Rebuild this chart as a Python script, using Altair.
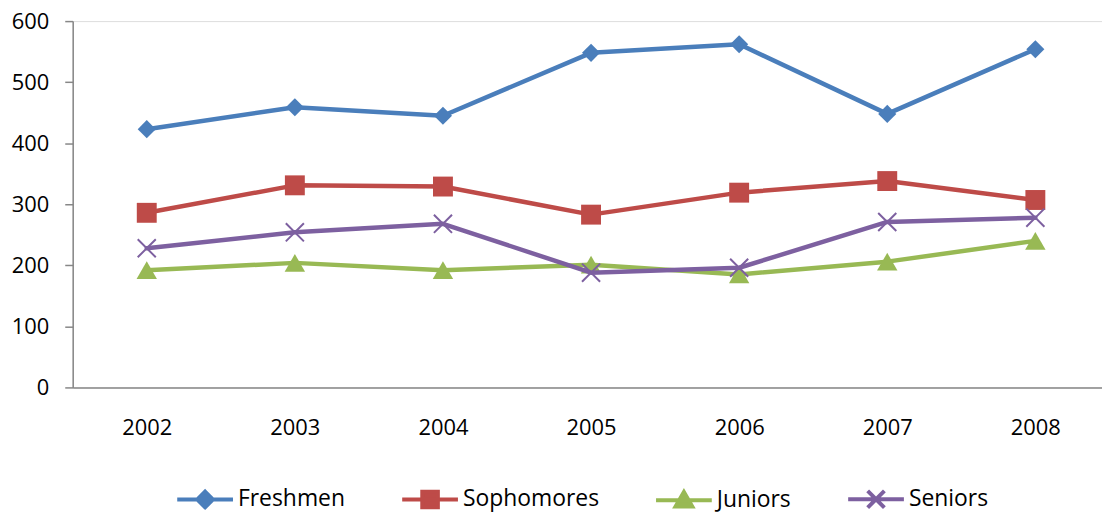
import altair as alt
import pandas as pd

years = [2002, 2003, 2004, 2005, 2006, 2007, 2008]
series = ["Freshmen", "Sophomores", "Juniors", "Seniors"]
freshmen = [423, 459, 445, 548, 562, 448, 554]
sophomores = [286, 331, 329, 283, 319, 338, 307]
juniors = [192, 204, 192, 201, 185, 206, 240]
seniors = [228, 254, 268, 188, 196, 271, 278]
values = [freshmen, sophomores, juniors, seniors]
colors = ["#4A7EBB", "#BE4B48", "#98B954", "#7D60A0"]
y_ticks = [0, 100, 200, 300, 400, 500, 600]

rows = []
for s, vals in zip(series, values):
    for yr, v in zip(years, vals):
        rows.append({"year": yr, "series": s, "value": v})
df = pd.DataFrame(rows)

FONT = "Open Sans"
AXIS_COLOR = "#878787"

x_enc = alt.X(
    "year:Q",
    scale=alt.Scale(domain=[2001.5, 2008.45], nice=False, zero=False),
    axis=alt.Axis(values=years, format="d", ticks=False, grid=False, title=None,
                  labelPadding=30, labelFontSize=22, labelFont=FONT, labelColor="#000",
                  domainColor=AXIS_COLOR, domainWidth=1.5),
)
y_enc = alt.Y(
    "value:Q",
    scale=alt.Scale(domain=[0, 600], nice=False),
    axis=alt.Axis(values=y_ticks, grid=False, title=None, tickSize=8,
                  tickColor=AXIS_COLOR, tickWidth=1.5, labelPadding=16,
                  labelFontSize=22, labelFont=FONT, labelColor="#000",
                  domainColor=AXIS_COLOR, domainWidth=1.5),
)

point_styles = [
    dict(shape="diamond", size=330, filled=True),
    dict(shape="square", size=400, filled=True),
    dict(shape="triangle-up", size=420, filled=True),
    dict(shape="M-1,-1L1,1M-1,1L1,-1", size=330, filled=False, strokeWidth=2),
]

layers = []
for s, c, st in zip(series, colors, point_styles):
    base = alt.Chart(df).transform_filter(alt.datum.series == s)
    layers.append(
        base.mark_line(strokeWidth=4.5, strokeJoin="round", strokeCap="round", color=c)
        .encode(x=x_enc, y=y_enc)
    )
    layers.append(
        base.mark_point(color=c, opacity=1, **st).encode(x=x_enc, y=y_enc)
    )

legend_paths = [
    "M-1,0H1M0,-0.28L0.28,0L0,0.28L-0.28,0Z",
    "M-1,0H1M-0.28,-0.28H0.28V0.28H-0.28Z",
    "M-1,0H1M0,-0.3L0.3,0.22H-0.3Z",
    "M-1,0H1M-0.3,-0.3L0.3,0.3M-0.3,0.3L0.3,-0.3",
]

leg = alt.Legend(
    orient="none", legendX=103, legendY=450, direction="horizontal",
    title=None, symbolSize=3136, symbolStrokeWidth=4, symbolOpacity=1,
    labelFont=FONT, labelFontSize=23, labelColor="#000", labelOffset=3,
    columnPadding=49,
)

legend_layer = alt.Chart(df).mark_point(filled=True, opacity=0).encode(
    x=x_enc, y=y_enc,
    color=alt.Color("series:N", scale=alt.Scale(domain=series, range=colors), legend=leg),
    stroke=alt.Stroke("series:N", scale=alt.Scale(domain=series, range=colors), legend=leg),
    shape=alt.Shape("series:N", scale=alt.Scale(domain=series, range=legend_paths), legend=leg),
)

chart = alt.layer(*layers, legend_layer).properties(
    width=1034, height=368,
    padding={"left": 65, "top": 12, "right": 0, "bottom": 126},
    autosize=alt.AutoSizeParams(type="none"),
).configure_view(stroke=None).configure(background="white")

chart.save("out.html", embed_options={"renderer": "svg", "actions": False})
